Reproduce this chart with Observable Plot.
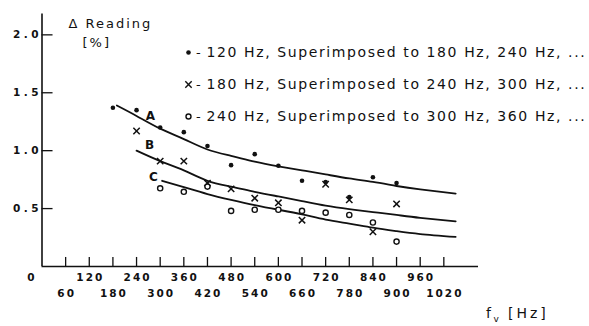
<!DOCTYPE html>
<html><head><meta charset="utf-8">
<script src="https://cdn.jsdelivr.net/npm/d3@7"></script>
<script src="https://cdn.jsdelivr.net/npm/@observablehq/plot@0.6"></script>
<style>body{margin:0;background:#fff;}</style>
</head><body><div id="chart"></div>
<script>
// ---- data ----
const freqA = [180, 240, 300, 360, 420, 480, 540, 600, 660, 720, 780, 840, 900];
const valA  = [1.37, 1.35, 1.20, 1.16, 1.04, 0.875, 0.97, 0.87, 0.74, 0.73, 0.60, 0.77, 0.72];
const freqB = [240, 300, 360, 420, 480, 540, 600, 660, 720, 780, 840, 900];
const valB  = [1.17, 0.91, 0.91, 0.72, 0.67, 0.59, 0.55, 0.40, 0.71, 0.575, 0.30, 0.54];
const freqC = [300, 360, 420, 480, 540, 600, 660, 720, 780, 840, 900];
const valC  = [0.675, 0.645, 0.69, 0.48, 0.49, 0.49, 0.48, 0.465, 0.445, 0.38, 0.215];

const curveFreqA = [190, 240, 300, 360, 420, 480, 540, 600, 660, 720, 780, 840, 900, 960, 1050];
const curveValA  = [1.39, 1.30, 1.19, 1.10, 1.01, 0.955, 0.905, 0.865, 0.83, 0.795, 0.76, 0.73, 0.695, 0.665, 0.63];
const curveFreqB = [240, 300, 360, 420, 480, 540, 600, 660, 720, 780, 840, 900, 960, 1050];
const curveValB  = [1.00, 0.91, 0.83, 0.74, 0.69, 0.645, 0.605, 0.565, 0.525, 0.495, 0.47, 0.445, 0.42, 0.39];
const curveFreqC = [305, 360, 420, 480, 540, 600, 660, 720, 780, 840, 900, 960, 1050];
const curveValC  = [0.74, 0.685, 0.625, 0.575, 0.53, 0.49, 0.45, 0.405, 0.37, 0.335, 0.305, 0.28, 0.255];

const curveNames = ["A", "B", "C"];
const curveLabelFreq = [275, 273, 283];
const curveLabelVal  = [1.30, 1.05, 0.77];

const xTicks = [60, 120, 180, 240, 300, 360, 420, 480, 540, 600, 660, 720, 780, 840, 900, 960, 1020];
const xLabelsRow1 = [120, 240, 360, 480, 600, 720, 840, 960];
const xLabelsRow2 = [60, 180, 300, 420, 540, 660, 780, 900, 1020];
const yTicks = [0.5, 1.0, 1.5, 2.0];
const yTickLabels = ["0.5", "1.0", "1.5", "2.0"];

const legendLabels = [
  "120 Hz, Superimposed to 180 Hz, 240 Hz, ...",
  "180 Hz, Superimposed to 240 Hz, 300 Hz, ...",
  "240 Hz, Superimposed to 300 Hz, 360 Hz, ..."
];
const yTitle1 = "\u0394 Reading";
const yTitle2 = "[%]";

// ---- build tables ----
const zip = (fs, vs) => fs.map((f, i) => ({f, v: vs[i]}));
const ptsA = zip(freqA, valA), ptsB = zip(freqB, valB), ptsC = zip(freqC, valC);
const lines = [zip(curveFreqA, curveValA), zip(curveFreqB, curveValB), zip(curveFreqC, curveValC)];
const curveLabels = curveNames.map((n, i) => ({n, f: curveLabelFreq[i], v: curveLabelVal[i]}));

const ink = "#111";
const xMax = 1108, yMax = 2.18;
const xTickLen = 0.078;  // data units (~9px)
const yTickLen = 28;     // data units (~11px)

const legendSymbols = [
  {symbol: "circle", fill: ink, stroke: "none", r: 2.3},
  {symbol: "times", fill: "none", stroke: ink, r: 3},
  {symbol: "circle", fill: "none", stroke: ink, r: 2.5}
];
const legendDy = [38.5, 70.5, 102.5];

const legendMarks = legendLabels.flatMap((lab, i) => [
  Plot.dot([0], {frameAnchor: "top-left", dx: 146.5, dy: legendDy[i], symbol: legendSymbols[i].symbol,
    fill: legendSymbols[i].fill, stroke: legendSymbols[i].stroke, r: legendSymbols[i].r, strokeWidth: 1.4}),
  Plot.text(["-"], {frameAnchor: "top-left", dx: 154, dy: legendDy[i], lineAnchor: "middle", text: d => d, fontSize: 13, fill: ink}),
  Plot.text([lab], {frameAnchor: "top-left", dx: 164.5, dy: legendDy[i], lineAnchor: "middle", text: d => d, textAnchor: "start",
    fontSize: 14, fill: ink, ariaDescription: "legend"})
]);

const plot = Plot.plot({
  width: 589, height: 326,
  marginLeft: 41.5, marginRight: 111, marginTop: 13.5, marginBottom: 60,
  x: {domain: [0, xMax], axis: null},
  y: {domain: [0, yMax], axis: null},
  style: {fontFamily: "DejaVu Sans", background: "#fff", color: ink},
  marks: [
    // axes
    Plot.ruleY([0], {x1: 0, x2: xMax, stroke: ink, strokeWidth: 1.6}),
    Plot.ruleX([0], {y1: 0, y2: yMax, stroke: ink, strokeWidth: 1.6}),
    Plot.ruleX(xTicks, {x: d => d, y1: 0, y2: xTickLen, stroke: ink, strokeWidth: 1.3}),
    Plot.ruleY(yTicks, {y: d => d, x1: 0, x2: yTickLen, stroke: ink, strokeWidth: 1.3}),
    Plot.text(xLabelsRow1, {x: d => d, y: 0, dy: 11, dx: 1, text: d => String(d), fontSize: 10.5, fontWeight: "bold", fill: ink, ariaDescription: "xtick"}),
    Plot.text(xLabelsRow2, {x: d => d, y: 0, dy: 27, dx: 1, text: d => String(d), fontSize: 10.5, fontWeight: "bold", fill: ink, ariaDescription: "xtick"}),
    Plot.text([0], {x: d => d, y: 0, dx: -10, dy: 11, text: d => String(d), fontSize: 10.5, fontWeight: "bold", fill: ink, ariaDescription: "xtick"}),
    Plot.text(yTicks, {x: 0, y: d => d, dx: 0, textAnchor: "end", text: (d, i) => yTickLabels[i], fontSize: 10.5, fontWeight: "bold", fill: ink, ariaDescription: "ytick"}),
    // fitted curves
    ...lines.map(l => Plot.line(l, {x: "f", y: "v", curve: "natural", stroke: ink, strokeWidth: 1.8})),
    // data
    Plot.dot(ptsA, {x: "f", y: "v", symbol: "circle", r: 2.3, fill: ink}),
    Plot.dot(ptsB, {x: "f", y: "v", symbol: "times", r: 3, stroke: ink, strokeWidth: 1.5}),
    Plot.dot(ptsC, {x: "f", y: "v", symbol: "circle", r: 2.6, fill: "white", stroke: ink, strokeWidth: 1.4}),
    // curve names
    Plot.text(curveLabels, {x: "f", y: "v", text: "n", fontSize: 12, fontWeight: "bold", fill: ink}),
    // axis titles
    Plot.text([yTitle1], {frameAnchor: "top-left", dx: 26.5, dy: 9.5, lineAnchor: "middle", text: d => d, textAnchor: "start", fontSize: 13, fill: ink, ariaDescription: "title"}),
    Plot.text([yTitle2], {frameAnchor: "top-left", dx: 40.5, dy: 28.5, lineAnchor: "middle", text: d => d, textAnchor: "start", fontSize: 13, fill: ink, ariaDescription: "title"}),
    Plot.text(["f"], {frameAnchor: "bottom-left", dx: 444, dy: 47, lineAnchor: "middle", text: d => d, textAnchor: "start", fontSize: 14, fill: ink}),
    Plot.text(["v"], {frameAnchor: "bottom-left", dx: 451.5, dy: 53, lineAnchor: "middle", text: d => d, textAnchor: "start", fontSize: 9, fill: ink}),
    Plot.text(["[Hz]"], {frameAnchor: "bottom-left", dx: 466, dy: 47, lineAnchor: "middle", text: d => d, textAnchor: "start", fontSize: 14, fill: ink, ariaDescription: "unit"}),
    ...legendMarks
  ]
});
document.getElementById("chart").appendChild(plot);
const svg = d3.select(plot);
svg.selectAll('g[aria-description="xtick"] text').style("letter-spacing", "2px");
svg.selectAll('g[aria-description="ytick"] text').style("letter-spacing", "3.5px");
svg.selectAll('g[aria-description="legend"] text').style("letter-spacing", "1.6px");
svg.selectAll('g[aria-description="title"] text').style("letter-spacing", "2px");
svg.selectAll('g[aria-description="unit"] text').style("letter-spacing", "3px");
</script>
</body></html>
